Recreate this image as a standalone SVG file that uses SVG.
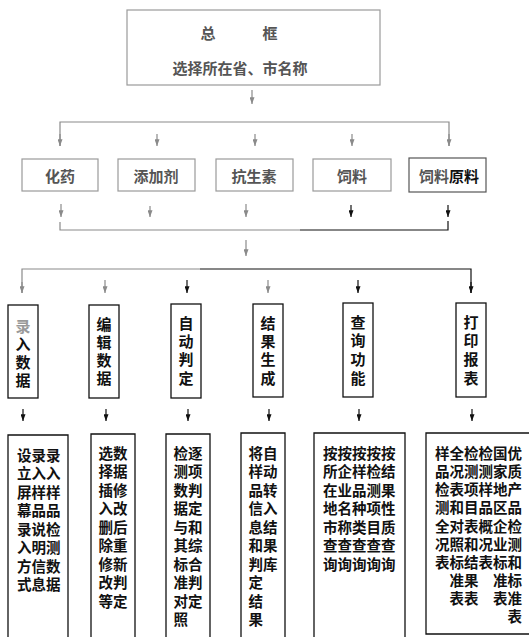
<svg xmlns="http://www.w3.org/2000/svg" width="529" height="637" viewBox="0 0 529 637">
<defs>
<marker id="ag" viewBox="0 0 8 6" refX="8" refY="3" markerWidth="7" markerHeight="5" markerUnits="userSpaceOnUse" orient="auto"><path d="M0,0 L8,3 L0,6 z" fill="#8a8a8a"/></marker>
<marker id="ab" viewBox="0 0 8 6" refX="8" refY="3" markerWidth="7" markerHeight="5" markerUnits="userSpaceOnUse" orient="auto"><path d="M0,0 L8,3 L0,6 z" fill="#111"/></marker>
<style>
.t{font-family:"Liberation Sans","Noto Sans CJK SC","Noto Sans CJK TC",sans-serif;font-weight:700}
.g{fill:#555}
.k{fill:#111}
.bg{fill:#fff;stroke:#9a9a9a;stroke-width:1.2}
.bk{fill:#fff;stroke:#111;stroke-width:1.3}
.cg{fill:none;stroke:#8a8a8a;stroke-width:1.2}
.ck{fill:none;stroke:#111;stroke-width:1.2}
.s15{font-size:15px}
.s14{font-size:14.5px}
.m{text-anchor:middle}
</style>
</defs>
<rect width="529" height="637" fill="#fff"/>

<g id="connectors">
<line class="cg" x1="252" y1="90" x2="252" y2="104" marker-end="url(#ag)"/>
<polyline class="cg" points="60,146 60,122 449,122 449,146" />
<line class="cg" x1="60" y1="134" x2="60" y2="146" marker-end="url(#ag)"/>
<line class="cg" x1="449" y1="134" x2="449" y2="146" marker-end="url(#ag)"/>
<line class="cg" x1="157" y1="134" x2="157" y2="146" marker-end="url(#ag)"/>
<line class="cg" x1="255" y1="134" x2="255" y2="146" marker-end="url(#ag)"/>
<line class="cg" x1="352" y1="134" x2="352" y2="146" marker-end="url(#ag)"/>

<line class="cg" x1="61" y1="204" x2="61" y2="217" marker-end="url(#ag)"/>
<line class="cg" x1="150" y1="206" x2="150" y2="217" marker-end="url(#ag)"/>
<line class="cg" x1="246" y1="204" x2="246" y2="217" marker-end="url(#ag)"/>
<line class="ck" x1="351" y1="205" x2="351" y2="217" marker-end="url(#ab)"/>
<line class="ck" x1="448" y1="205" x2="448" y2="217" marker-end="url(#ab)"/>
<polyline class="cg" points="60,222 60,230 300,230"/>
<polyline class="ck" points="300,230 448,230 448,221"/>
<line class="cg" x1="246" y1="240" x2="246" y2="256" marker-end="url(#ag)"/>

<polyline class="cg" points="22,293 22,269 200,269"/>
<polyline class="ck" points="200,269 471,269 471,293"/>
<line class="cg" x1="22" y1="282" x2="22" y2="293" marker-end="url(#ag)"/>
<line class="cg" x1="105" y1="280" x2="105" y2="293" marker-end="url(#ag)"/>
<line class="ck" x1="187" y1="280" x2="187" y2="293" marker-end="url(#ab)"/>
<line class="cg" x1="268" y1="280" x2="268" y2="293" marker-end="url(#ag)"/>
<line class="ck" x1="358" y1="280" x2="358" y2="293" marker-end="url(#ab)"/>
<line class="ck" x1="471" y1="282" x2="471" y2="293" marker-end="url(#ab)"/>

<line class="ck" x1="23" y1="409" x2="23" y2="421" marker-end="url(#ab)"/>
<line class="ck" x1="106" y1="409" x2="106" y2="421" marker-end="url(#ab)"/>
<line class="ck" x1="188" y1="409" x2="188" y2="421" marker-end="url(#ab)"/>
<line class="ck" x1="269" y1="409" x2="269" y2="421" marker-end="url(#ab)"/>
<line class="ck" x1="359" y1="409" x2="359" y2="421" marker-end="url(#ab)"/>
<line class="ck" x1="472" y1="409" x2="472" y2="421" marker-end="url(#ab)"/>
</g>

<g id="top">
<rect class="bg" x="127" y="10" width="253" height="75"/>
<text class="t s15 g m" x="208" y="38.5">总</text>
<text class="t s15 g m" x="270" y="38.5">框</text>
<text class="t s15 g m" x="240" y="73.5">选择所在省、市名称</text>
</g>

<g id="n-huayao"><rect class="bg" x="22" y="159" width="76" height="32"/><text class="t s15 g m" x="60" y="181.5">化药</text></g>
<g id="n-tianjiaji"><rect class="bg" x="118" y="159" width="77" height="32"/><text class="t s15 g m" x="156" y="181.5">添加剂</text></g>
<g id="n-kangshengsu"><rect class="bg" x="216" y="159" width="77" height="32"/><text class="t s15 g m" x="254" y="181.5">抗生素</text></g>
<g id="n-siliao"><rect class="bg" x="313" y="159" width="78" height="32"/><text class="t s15 g m" x="352" y="181.5">饲料</text></g>
<g id="n-siliaoyuanliao"><rect x="409" y="158" width="77" height="34" fill="#fff" stroke="#555" stroke-width="1.2"/><text class="t s15 m" x="449" y="181.5"><tspan fill="#555">饲料</tspan><tspan fill="#111">原料</tspan></text></g>

<g id="n-luru">
<rect class="bk" x="8" y="305" width="30" height="93" stroke="#444"/>
<text class="t s15 m" x="23" y="331.5" fill="#999">录</text>
<text class="t s15 k m" x="23" y="349.5">入</text>
<text class="t s15 k m" x="23" y="367.5">数</text>
<text class="t s15 k m" x="23" y="385.5">据</text>
</g>
<g id="n-bianji">
<rect class="bk" x="89" y="305" width="30" height="93"/>
<text class="t s15 k m" x="104" y="329.5">编</text>
<text class="t s15 k m" x="104" y="347.5">辑</text>
<text class="t s15 k m" x="104" y="365.5">数</text>
<text class="t s15 k m" x="104" y="383.5">据</text>
</g>
<g id="n-zidong">
<rect class="bk" x="171" y="304" width="30" height="94"/>
<text class="t s15 k m" x="186" y="328.5">自</text>
<text class="t s15 k m" x="186" y="346.5">动</text>
<text class="t s15 k m" x="186" y="365">判</text>
<text class="t s15 k m" x="186" y="383.5">定</text>
</g>
<g id="n-jieguo">
<rect class="bk" x="253" y="304" width="30" height="93"/>
<text class="t s15 k m" x="268" y="328.5">结</text>
<text class="t s15 k m" x="268" y="346.5">果</text>
<text class="t s15 k m" x="268" y="365">生</text>
<text class="t s15 k m" x="268" y="383.5">成</text>
</g>
<g id="n-chaxun">
<rect class="bk" x="343" y="303" width="30" height="94"/>
<text class="t s15 k m" x="358" y="327.5">查</text>
<text class="t s15 k m" x="358" y="346">询</text>
<text class="t s15 k m" x="358" y="365">功</text>
<text class="t s15 k m" x="358" y="384">能</text>
</g>
<g id="n-dayin">
<rect class="bk" x="456" y="303" width="30" height="94"/>
<text class="t s15 k m" x="471" y="327.5">打</text>
<text class="t s15 k m" x="471" y="345.5">印</text>
<text class="t s15 k m" x="471" y="364.5">报</text>
<text class="t s15 k m" x="471" y="383.5">表</text>
</g>

<g id="d-luru">
<path class="bk" d="M8,645 V435 H68 V645"/>
<g class="t s14 k">
<text x="17" y="460.5">设录录</text>
<text x="17" y="479">立入入</text>
<text x="17" y="497.5">屏样样</text>
<text x="17" y="516">幕品品</text>
<text x="17" y="534.5">录说检</text>
<text x="17" y="553">入明测</text>
<text x="17" y="571.5">方信数</text>
<text x="17" y="590">式息据</text>
</g>
</g>
<g id="d-bianji">
<path class="bk" d="M91,645 V434 H135 V645"/>
<g class="t s14 k">
<text x="98.5" y="458.5">选数</text>
<text x="98.5" y="477">择据</text>
<text x="98.5" y="495.5">插修</text>
<text x="98.5" y="514">入改</text>
<text x="98.5" y="532.5">删后</text>
<text x="98.5" y="551">除重</text>
<text x="98.5" y="569.5">修新</text>
<text x="98.5" y="588">改判</text>
<text x="98.5" y="606.5">等定</text>
</g>
</g>
<g id="d-zidong">
<path class="bk" d="M166,645 V434 H210 V645"/>
<g class="t s14 k">
<text x="173.5" y="458.5">检逐</text>
<text x="173.5" y="477">测项</text>
<text x="173.5" y="495.5">数判</text>
<text x="173.5" y="514">据定</text>
<text x="173.5" y="532.5">与和</text>
<text x="173.5" y="551">其综</text>
<text x="173.5" y="569.5">标合</text>
<text x="173.5" y="588">准判</text>
<text x="173.5" y="606.5">对定</text>
<text x="173.5" y="625">照</text>
</g>
</g>
<g id="d-jieguo">
<path class="bk" d="M241,645 V433 H285 V645"/>
<g class="t s14 k">
<text x="248.5" y="458.5">将自</text>
<text x="248.5" y="477">样动</text>
<text x="248.5" y="495.5">品转</text>
<text x="248.5" y="514">信入</text>
<text x="248.5" y="532.5">息结</text>
<text x="248.5" y="551">和果</text>
<text x="248.5" y="569.5">判库</text>
<text x="248.5" y="588">定</text>
<text x="248.5" y="606.5">结</text>
<text x="248.5" y="625">果</text>
</g>
</g>
<g id="d-chaxun">
<path class="bk" d="M314,645 V433 H405 V645"/>
<g class="t s14 k">
<text x="323" y="458.5">按按按按按</text>
<text x="323" y="477">所企样检结</text>
<text x="323" y="495.5">在业品测果</text>
<text x="323" y="514">地名种项性</text>
<text x="323" y="532.5">市称类目质</text>
<text x="323" y="551">查查查查查</text>
<text x="323" y="569.5">询询询询询</text>
</g>
</g>
<g id="d-dayin">
<path class="bk" d="M540,433 H426 V634 H540"/>
<g class="t s14 k">
<text x="435" y="458.5">样全检检国优</text>
<text x="435" y="476.5">品况测测家质</text>
<text x="435" y="495">检表项样地产</text>
<text x="435" y="513">测和目品区品</text>
<text x="435" y="531.5">全对表概企检</text>
<text x="435" y="549.5">况照和况业测</text>
<text x="435" y="567.5">表标结表标和</text>
<text x="449.5" y="586">准果</text>
<text x="493" y="586">准标</text>
<text x="449.5" y="604">表表</text>
<text x="493" y="604">表准</text>
<text x="507.5" y="622">表</text>
</g>
</g>
</svg>
